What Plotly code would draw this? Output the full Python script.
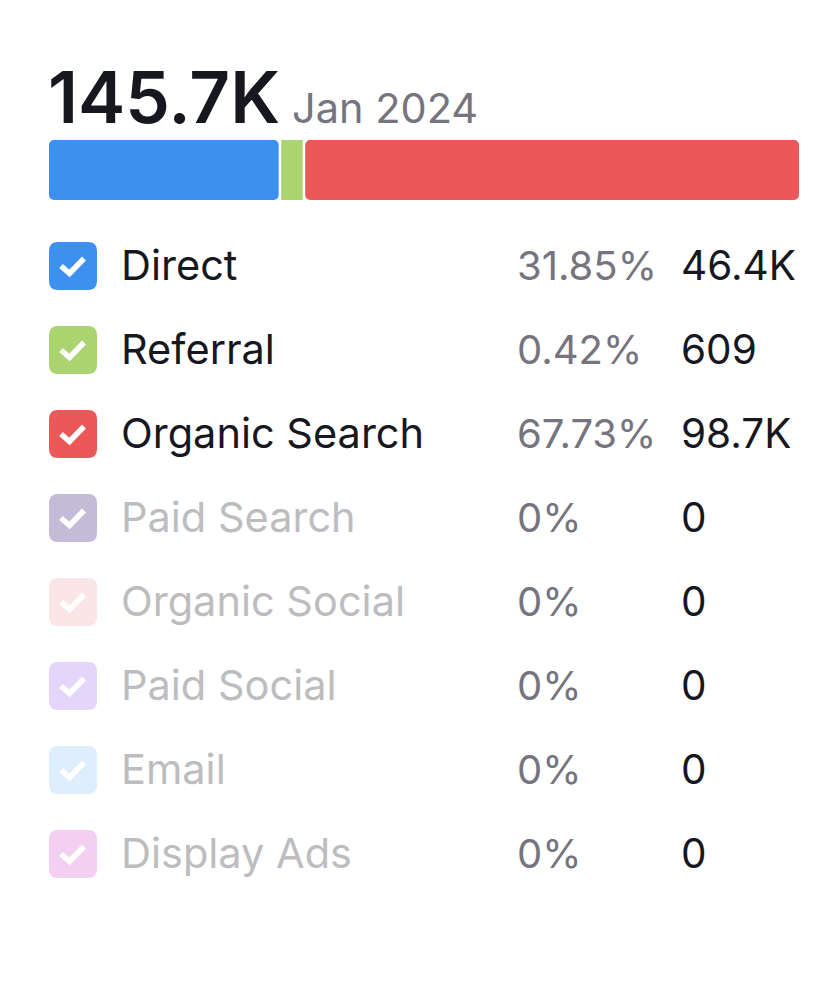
import plotly.graph_objects as go

# ---------------- data ----------------
channels = ["Direct", "Referral", "Organic Search", "Paid Search",
            "Organic Social", "Paid Social", "Email", "Display Ads"]
share_pct = [31.85, 0.42, 67.73, 0, 0, 0, 0, 0]
share_labels = ["31.85%", "0.42%", "67.73%", "0%", "0%", "0%", "0%", "0%"]
visits = [46400, 609, 98700, 0, 0, 0, 0, 0]
visit_labels = ["46.4K", "609", "98.7K", "0", "0", "0", "0", "0"]
total_label = "145.7K"
period_label = "Jan 2024"

# ---------------- styles ----------------
bar_colors = ["#3d8ff0", "#a9d46f", "#eb5858", "#c4bbd9",
              "#fbe6e7", "#e4d6fb", "#deeefd", "#f3cff2"]
active_text = "#17181f"
inactive_text = "#bdbdbf"
pct_color = "#75747f"
FONT = "Inter"

W, H = 838, 1000
BAR_L, BAR_R, BAR_T, BAR_B = 49, 799, 140, 200
ROW0, ROW_STEP = 266, 84
BOX = 48
MIN_SHARE = 3.2
GAP_PX = 2.5

fig = go.Figure()

# display widths: small non-zero segments get a minimum visible width
nonzero = [i for i, v in enumerate(visits) if v > 0]
small = [i for i in nonzero if share_pct[i] < MIN_SHARE]
big = [i for i in nonzero if i not in small]
rest = 100 - MIN_SHARE * len(small)
big_sum = sum(share_pct[i] for i in big)
disp = {}
for i in nonzero:
    disp[i] = MIN_SHARE if i in small else share_pct[i] / big_sum * rest

# pixel-space helper axes (x / y) covering the whole page
fig.add_trace(go.Scatter(x=[0], y=[0], xaxis="x", yaxis="y", mode="markers",
                         marker=dict(opacity=0), hoverinfo="skip", showlegend=False))

gap = GAP_PX / (BAR_R - BAR_L) * 100
start = 0.0
for k, i in enumerate(nonzero):
    w = disp[i]
    first, last = k == 0, k == len(nonzero) - 1
    seg_end = start + w - (0 if last else gap)
    seg_w = seg_end - start
    if first:
        # draw from the right end leftward so the rounded end is on the left
        base, length, rad = seg_end, -seg_w, 5
    else:
        base, length, rad = start, seg_w, (5 if last else 0)
    fig.add_trace(go.Bar(
        y=[0], x=[length], base=[base], orientation="h", width=1,
        xaxis="x2", yaxis="y2",
        marker=dict(color=bar_colors[i], cornerradius=rad, line=dict(width=0)),
        name=channels[i], hovertemplate=f"{channels[i]}: {visit_labels[i]}<extra></extra>",
        showlegend=False))
    start += w

fig.update_layout(
    width=W, height=H, margin=dict(l=0, r=0, t=0, b=0),
    paper_bgcolor="white", plot_bgcolor="rgba(0,0,0,0)", barmode="overlay",
    xaxis=dict(domain=[0, 1], range=[0, W], visible=False, fixedrange=True),
    yaxis=dict(domain=[0, 1], range=[H, 0], visible=False, fixedrange=True),
    xaxis2=dict(domain=[BAR_L / W, BAR_R / W], range=[0, 100], visible=False,
                anchor="y2", fixedrange=True),
    yaxis2=dict(domain=[1 - BAR_B / H, 1 - BAR_T / H], range=[-0.5, 0.5], visible=False,
                anchor="x2", fixedrange=True),
    showlegend=False,
)

shapes = []
annotations = []

# header
annotations.append(dict(x=46, y=97, xref="x", yref="y", text=total_label,
                        showarrow=False, xanchor="left", yanchor="middle",
                        font=dict(family=FONT, size=71, color=active_text, weight=600)))
annotations.append(dict(x=290, y=108, xref="x", yref="y", text=period_label,
                        showarrow=False, xanchor="left", yanchor="middle",
                        font=dict(family=FONT, size=41.5, color=pct_color)))


def rounded_rect(x0, y0, x1, y1, r):
    return (f"M {x0+r},{y0} L {x1-r},{y0} Q {x1},{y0} {x1},{y0+r} "
            f"L {x1},{y1-r} Q {x1},{y1} {x1-r},{y1} L {x0+r},{y1} "
            f"Q {x0},{y1} {x0},{y1-r} L {x0},{y0+r} Q {x0},{y0} {x0+r},{y0} Z")


for i, name in enumerate(channels):
    cy = ROW0 + i * ROW_STEP
    cx = BAR_L + BOX / 2
    shapes.append(dict(type="path", xref="x", yref="y",
                       path=rounded_rect(BAR_L, cy - BOX / 2, BAR_L + BOX, cy + BOX / 2, 9),
                       fillcolor=bar_colors[i], line=dict(width=0), layer="above"))
    shapes.append(dict(type="path", xref="x", yref="y",
                       path=f"M {cx-12},{cy} L {cx-3.5},{cy+7.5} L {cx+11},{cy-7.5}",
                       line=dict(color="white", width=5.5), layer="above"))
    active = visits[i] > 0
    annotations.append(dict(x=119, y=cy - 1, xref="x", yref="y", text=name,
                            showarrow=False, xanchor="left", yanchor="middle",
                            font=dict(family=FONT, size=41.5,
                                      color=active_text if active else inactive_text)))
    annotations.append(dict(x=515, y=cy - 1, xref="x", yref="y", text=share_labels[i],
                            showarrow=False, xanchor="left", yanchor="middle",
                            font=dict(family=FONT, size=40, color=pct_color)))
    annotations.append(dict(x=679, y=cy - 1, xref="x", yref="y", text=visit_labels[i],
                            showarrow=False, xanchor="left", yanchor="middle",
                            font=dict(family=FONT, size=40.5, color=active_text)))

fig.update_layout(shapes=shapes, annotations=annotations)
fig.write_html("out.html")
